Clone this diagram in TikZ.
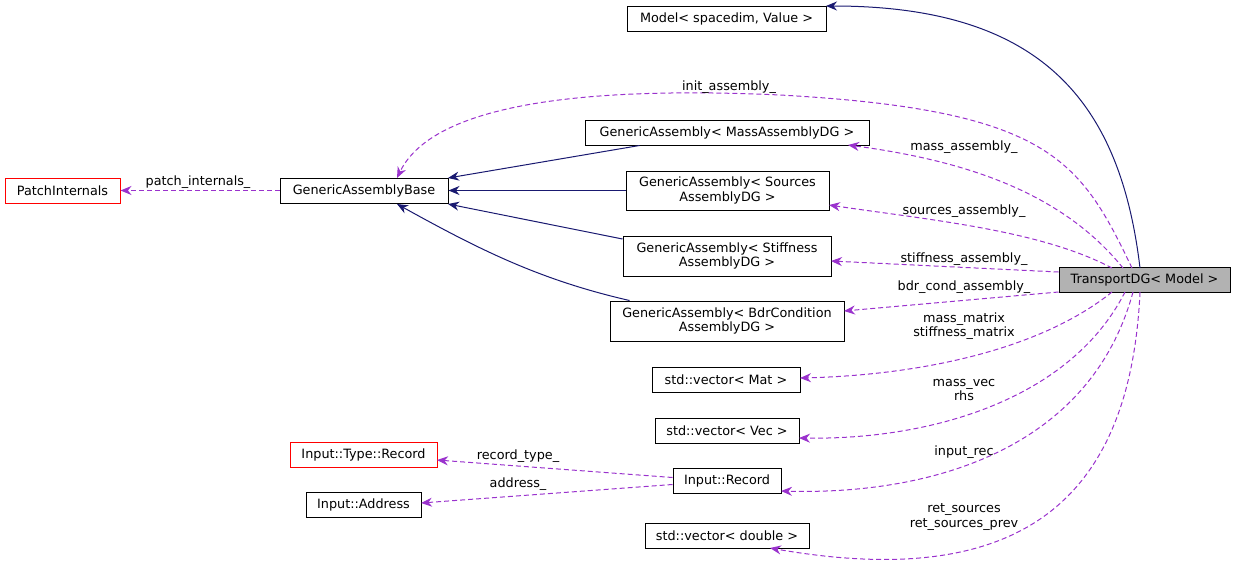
\documentclass[tikz,border=0pt]{standalone}
\usepackage{fontspec}
\setmainfont{DejaVu Sans}
\usetikzlibrary{arrows.meta}
\definecolor{inh}{HTML}{191970}
\definecolor{use}{HTML}{9A32CD}
\begin{document}
\begin{tikzpicture}[x=1pt,y=-1pt,line width=1pt,
  box/.style={draw=black,fill=white,font=\fontsize{12.8}{14.5}\selectfont,align=center,inner sep=0pt,minimum height=25pt},
  redbox/.style={box,draw=red},
  inhline/.style={draw=inh,-{Stealth[length=11pt,width=9pt]}},
  useline/.style={draw=use,dashed,dash pattern=on 5pt off 3pt,-{Stealth[length=11pt,width=9pt]}},
  lbl/.style={font=\fontsize{12.8}{14.5}\selectfont,align=center,inner sep=1pt}]
\useasboundingbox (0,0) rectangle (1236,573);
\node[box,minimum width=199pt] (model) at (726.5,18.5) {Model< spacedim, Value >};
\node[box,minimum width=171pt,fill=gray!60] (tdg) at (1144.5,280) {TransportDG< Model >};
\node[box,minimum width=168pt] (gab) at (364,190.5) {GenericAssemblyBase};
\node[redbox,minimum width=115pt] (pi) at (62.5,190.5) {PatchInternals};
\node[box,minimum width=284pt] (gam) at (727,132.5) {GenericAssembly< MassAssemblyDG >};
\node[box,minimum width=203pt,minimum height=39pt] (gas) at (727.5,190.5) {GenericAssembly< Sources\\AssemblyDG >};
\node[box,minimum width=208pt,minimum height=40pt] (gast) at (727,256) {GenericAssembly< Stiffness\\AssemblyDG >};
\node[box,minimum width=234pt,minimum height=40pt] (gab2) at (727,321) {GenericAssembly< BdrCondition\\AssemblyDG >};
\node[box,minimum width=148pt] (vm) at (726,379.5) {std::vector< Mat >};
\node[box,minimum width=144pt] (vv) at (727,430.5) {std::vector< Vec >};
\node[box,minimum width=108pt] (rec) at (727,480.5) {Input::Record};
\node[box,minimum width=164pt] (vd) at (727,535.5) {std::vector< double >};
\node[redbox,minimum width=147pt] (itr) at (363.5,454.5) {Input::Type::Record};
\node[box,minimum width=115pt] (ia) at (363.5,504.5) {Input::Address};

\coordinate (t1) at (1140,268);
\coordinate (m1) at (826,6);
\draw[inhline] (t1) .. controls (1120,100) and (1040,6) .. (m1);
\draw[inhline] (gam.south west)++(55,0) -- (448,178);
\draw[inhline] (gas.west) -- (gab.east);
\draw[inhline] (gast.west)++(0,-17) -- (448,204);
\draw[inhline] (gab2.north west)++(20,0) .. controls (540,280) and (480,250) .. (397,204);

\draw[useline] (1132,268) .. controls (1080,160) and (1050,110) .. (780,95) .. controls (560,85) and (430,110) .. (397,178);
\node[lbl] at (729,87) {init\_assembly\_};
\draw[useline] (1123,268) .. controls (1060,190) and (960,160) .. (848,145);
\node[lbl] at (964,147) {mass\_assembly\_};
\draw[useline] (1112,268) .. controls (1040,230) and (930,220) .. (829,205);
\node[lbl] at (964,211) {sources\_assembly\_};
\draw[useline] (tdg.west)++(0,-8) -- (831,261);
\node[lbl] at (964,259) {stiffness\_assembly\_};
\draw[useline] (tdg.west)++(0,12) -- (844,311);
\node[lbl] at (964,287) {bdr\_cond\_assembly\_};
\draw[useline] (1112,292) .. controls (1040,350) and (920,375) .. (800,378);
\node[lbl] at (964,326) {mass\_matrix\\stiffness\_matrix};
\draw[useline] (1125,292) .. controls (1070,400) and (930,440) .. (799,438);
\node[lbl] at (964,390) {mass\_vec\\rhs};
\draw[useline] (1133,292) .. controls (1090,450) and (930,495) .. (781,491);
\node[lbl] at (964,452) {input\_rec};
\draw[useline] (1140,292) .. controls (1130,510) and (1010,590) .. (770,548);
\node[lbl] at (964,517) {ret\_sources\\ret\_sources\_prev};
\draw[useline] (gab.west) -- (pi.east);
\node[lbl] at (198,182) {patch\_internals\_};
\draw[useline] (rec.west)++(0,-3) -- (437,460);
\node[lbl] at (518,456) {record\_type\_};
\draw[useline] (rec.west)++(0,4) -- (421,503);
\node[lbl] at (518,484) {address\_};
\end{tikzpicture}
\end{document}
